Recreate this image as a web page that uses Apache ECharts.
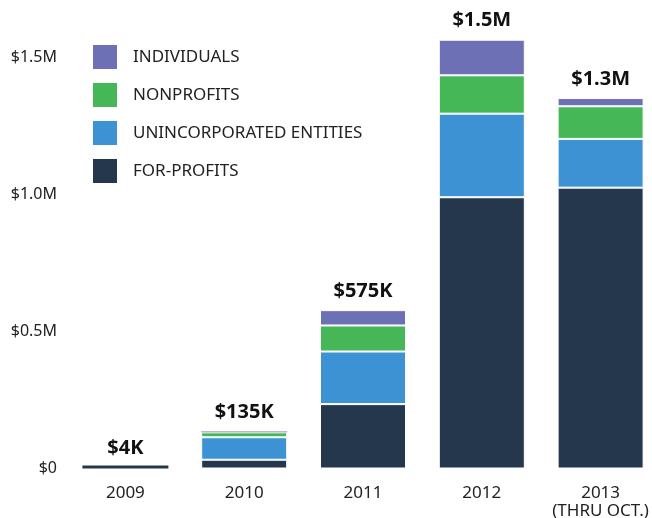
<!DOCTYPE html>
<html>
<head>
<meta charset="utf-8">
<script src="https://cdn.jsdelivr.net/npm/echarts@6/dist/echarts.min.js"></script>
<style>
  html, body { margin: 0; padding: 0; background: #fff; }
  #chart { width: 652px; height: 518px; }
</style>
</head>
<body>
<div id="chart"></div>
<script>
// values in thousands of dollars
var years = ['2009', '2010', '2011', '2012', '2013\n(THRU OCT.)'];
var forProfits = [4, 32, 235, 990, 1025];
var unincorporated = [0, 82, 192, 305, 178];
var nonprofits = [0, 18, 95, 140, 119];
var individuals = [0, 3, 56, 130, 30];
var totalLabels = ['$4K', '$135K', '$575K', '$1.5M', '$1.3M'];
var tickValues = [0, 500, 1000, 1500];
var tickLabels = ['$0', '$0.5M', '$1.0M', '$1.5M'];

var colors = {
  forProfits: '#24374d',
  unincorporated: '#3c92d3',
  nonprofits: '#45b757',
  individuals: '#6e70b5'
};

var chart = echarts.init(document.getElementById('chart'));

function barSeries(name, data, color, extra) {
  var s = {
    name: name,
    type: 'bar',
    stack: 'total',
    // tiny segments get no white separator so they stay visible
    data: data.map(function (v) {
      return v < 10 ? { value: v, itemStyle: { borderWidth: 0 } } : v;
    }),
    barWidth: 86,
    clip: false,
    itemStyle: { color: color, borderColor: '#fff', borderWidth: 1 }
  };
  return Object.assign(s, extra || {});
}

var option = {
  animation: false,
  textStyle: { fontFamily: 'Noto Sans' },
  legend: {
    orient: 'vertical',
    left: 91,
    top: 43,
    padding: 0,
    itemWidth: 26,
    itemHeight: 26,
    itemGap: 10,
    icon: 'rect',
    selectedMode: false,
    data: ['INDIVIDUALS', 'NONPROFITS', 'UNINCORPORATED ENTITIES', 'FOR-PROFITS'],
    textStyle: { fontSize: 17, color: '#222', padding: [0, 0, 0, 10] }
  },
  grid: { left: 66, width: 594, top: 57.5, bottom: 49.5, outerBoundsMode: 'none' },
  xAxis: {
    type: 'category',
    data: years,
    axisLine: { show: false },
    axisTick: { show: false },
    axisLabel: { interval: 0, fontSize: 17, color: '#222', margin: 16, lineHeight: 18 }
  },
  yAxis: {
    type: 'value',
    min: 0,
    max: 1500,
    interval: 500,
    splitLine: { show: false },
    axisLine: { show: false },
    axisTick: { show: false },
    axisLabel: {
      fontSize: 16,
      color: '#222',
      margin: 9,
      align: 'right',
      formatter: function (v) {
        var i = tickValues.indexOf(v);
        return i >= 0 ? tickLabels[i] : '';
      }
    }
  },
  series: [
    barSeries('FOR-PROFITS', forProfits, colors.forProfits, { barMinHeight: 3 }),
    barSeries('UNINCORPORATED ENTITIES', unincorporated, colors.unincorporated),
    barSeries('NONPROFITS', nonprofits, colors.nonprofits),
    barSeries('INDIVIDUALS', individuals, colors.individuals, {
      label: {
        show: true,
        position: 'top',
        distance: 9,
        fontSize: 20,
        fontWeight: 'bold',
        color: '#111',
        formatter: function (p) { return totalLabels[p.dataIndex]; }
      }
    })
  ]
};

chart.setOption(option);
</script>
</body>
</html>
